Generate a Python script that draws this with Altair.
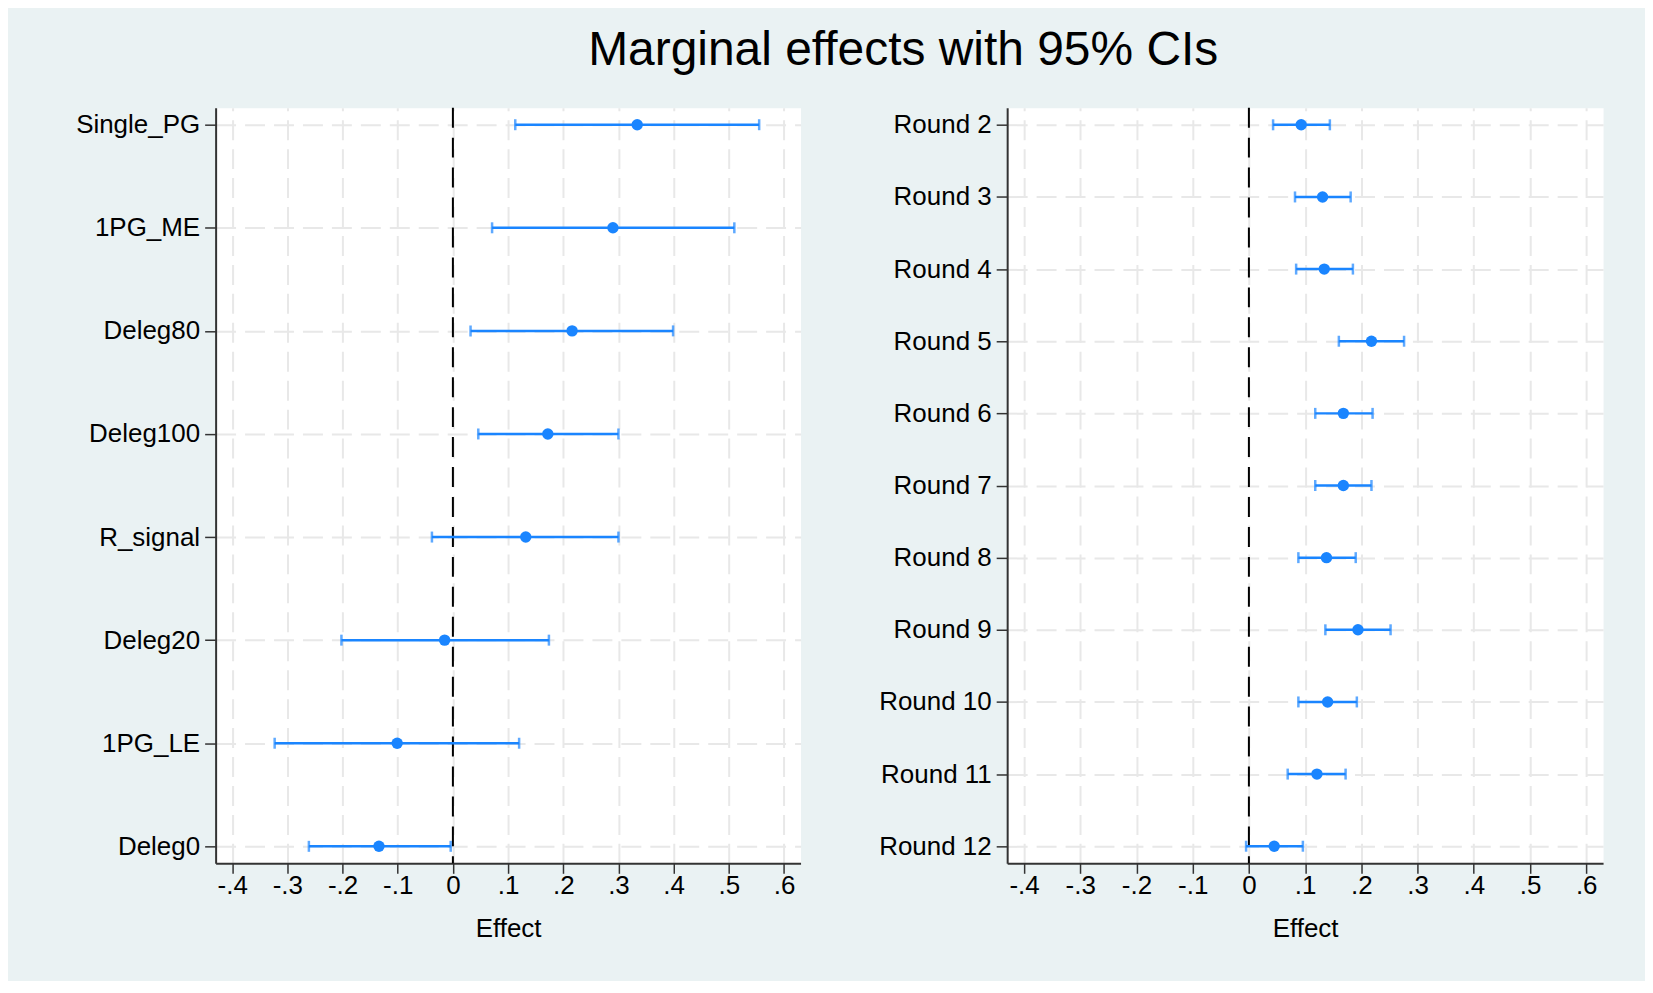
import altair as alt
import pandas as pd

BLUE = "#1a85ff"
BG = "#eaf2f3"
FONT = "Liberation Sans"

# Left panel
left_labels = ["Single_PG", "1PG_ME", "Deleg80", "Deleg100", "R_signal", "Deleg20", "1PG_LE", "Deleg0"]
left_est = [0.334, 0.290, 0.216, 0.172, 0.132, -0.015, -0.101, -0.134]
left_lo = [0.113, 0.071, 0.032, 0.046, -0.038, -0.202, -0.323, -0.261]
left_hi = [0.555, 0.510, 0.399, 0.300, 0.300, 0.174, 0.120, -0.004]

# Right panel
right_labels = ["Round 2", "Round 3", "Round 4", "Round 5", "Round 6", "Round 7",
                "Round 8", "Round 9", "Round 10", "Round 11", "Round 12"]
right_est = [0.093, 0.131, 0.134, 0.218, 0.168, 0.168, 0.138, 0.194, 0.140, 0.121, 0.045]
right_lo = [0.043, 0.082, 0.084, 0.160, 0.118, 0.118, 0.088, 0.136, 0.088, 0.069, -0.005]
right_hi = [0.144, 0.181, 0.185, 0.276, 0.220, 0.218, 0.190, 0.252, 0.192, 0.172, 0.096]

x_ticks = [-0.4, -0.3, -0.2, -0.1, 0, 0.1, 0.2, 0.3, 0.4, 0.5, 0.6]
x_domain = [-0.43, 0.63]
x_title = "Effect"
chart_title = "Marginal effects with 95% CIs"

LABEL_EXPR = ("datum.value == 0 ? '0' : "
              "replace(replace(format(datum.value, '.1f'), '\u2212', '-'), '0.', '.')")


def x_enc(field):
    return alt.X(
        field,
        scale=alt.Scale(domain=x_domain, nice=False, zero=False),
        axis=alt.Axis(
            values=x_ticks, labelExpr=LABEL_EXPR, title=x_title,
            labelFontSize=26, labelFont=FONT, labelColor="black",
            titleFontSize=26, titleFont=FONT, titleFontWeight="normal", titleColor="black",
            titlePadding=17, tickSize=10, tickColor="#333333", tickWidth=1.5,
            labelPadding=-1, domainColor="#333333", domainWidth=2,
            grid=True, gridDash=[20, 9], gridColor="#e8e8e8", gridWidth=2,
        ),
    )


def panel(labels, est, lo, hi, width, pad):
    df = pd.DataFrame({"term": labels, "est": est, "lo": lo, "hi": hi})
    y = alt.Y(
        "term:N", sort=labels,
        scale=alt.Scale(type="point", padding=pad),
        axis=alt.Axis(
            title=None, labelFontSize=26, labelFont=FONT, labelColor="black",
            tickSize=11, labelPadding=5, tickColor="#333333", tickWidth=1.5,
            domainColor="#333333", domainWidth=2,
            grid=True, gridDash=[20, 9], gridColor="#e8e8e8", gridWidth=2,
        ),
    )
    base = alt.Chart(df)
    zero = alt.Chart(pd.DataFrame({"z": [0.0]})).mark_rule(
        color="black", strokeWidth=2, strokeDash=[20, 10]
    ).encode(x=x_enc("z:Q"))
    rules = base.mark_rule(color=BLUE, strokeWidth=2.5).encode(x=x_enc("lo:Q"), x2="hi:Q", y=y)
    cap_lo = base.mark_tick(color=BLUE, thickness=2.5, size=11).encode(x=x_enc("lo:Q"), y=y)
    cap_hi = base.mark_tick(color=BLUE, thickness=2.5, size=11).encode(x=x_enc("hi:Q"), y=y)
    pts = base.mark_point(filled=True, size=130, color=BLUE, opacity=1).encode(x=x_enc("est:Q"), y=y)
    return alt.layer(zero, rules, cap_lo, cap_hi, pts).properties(width=width, height=757)


left = panel(left_labels, left_est, left_lo, left_hi, 586, 0.165)
right = panel(right_labels, right_est, right_lo, right_hi, 597, 0.237)

chart = alt.hconcat(left, right, spacing=76).properties(
    title=alt.TitleParams(
        text=chart_title, fontSize=48, font=FONT, fontWeight="normal", color="black",
        anchor="middle", dx=64, offset=31,
    ),
    padding={"left": 67, "top": 18, "right": 41, "bottom": 38},
    background=BG,
).configure_view(fill="white", stroke="transparent")

chart.save("out.html", embed_options={"renderer": "svg", "actions": False})
